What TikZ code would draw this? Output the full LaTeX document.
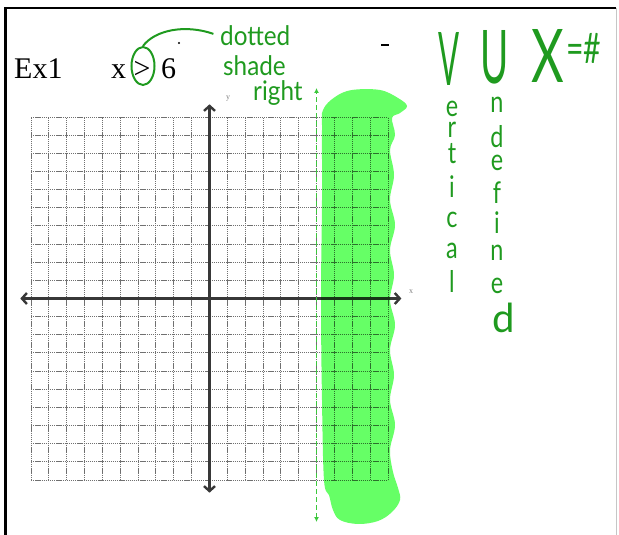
\documentclass[tikz,border=0pt]{standalone}
\usepackage{fontspec}
\setmainfont{Liberation Serif}
\newfontfamily\handfont{Lato}
\usepackage{graphicx}
\usetikzlibrary{arrows.meta,shapes.geometric}
\definecolor{penGreen}{HTML}{1F9A1F}
\definecolor{penLight}{HTML}{3CC83C}
\definecolor{hiGreen}{HTML}{66FF66}
\definecolor{axisGray}{HTML}{383838}
\definecolor{gridGray}{HTML}{707070}

\begin{document}
\begin{tikzpicture}[
  x=1pt,y=-1pt,
  print/.style={inner sep=0pt,font=\fontsize{30}{30}\selectfont},
  hand/.style={inner sep=0pt,text=penGreen,font=\handfont\fontsize{26}{26}\selectfont},
  big/.style={hand,font=\handfont\fontsize{74}{74}\selectfont},
  ring/.style={ellipse,draw=penGreen,line width=2pt,minimum width=23pt,
    minimum height=38pt,inner sep=0pt},
  pen/.style={draw=penGreen,line width=2pt},
  gridline/.style={draw=gridGray,line width=1pt,dash pattern=on 1.3pt off 0.8pt},
  axis/.style={draw=axisGray,line width=2.4pt,<->,>={Straight Barb[length=5pt,width=11pt]}},
  guide/.style={draw=penLight,line width=1.6pt,dash pattern=on 5pt off 3pt,
    <->,>={Latex[length=5pt,width=5pt]}},
  tag/.style={inner sep=0pt,text=gray,font=\fontsize{8}{8}\selectfont}
]
\useasboundingbox (0,0) rectangle (619,535);
\draw[line width=2.6pt] (5.3,535) -- (5.3,8) -- (616,8);
\draw[gray!45,line width=1pt] (616.5,8) -- (616.5,535);

\node[print,anchor=base west] (ex) at (14,78) {Ex1};
\node[print,anchor=base west] (xvar) at (111,78) {x};
\node[print,anchor=base] (gtsign) at (142,78) {>};
\node[print,anchor=base west] (six) at (161,78) {6};
\fill (179,43) circle (1.2pt);
\fill (381,44) rectangle (389,46.5);

\begin{scope}[shift={(209.5,298.5)},x=17.85pt,y=18.15pt]
  \foreach \k in {-10,...,10} {
    \draw[gridline] (\k,-10) -- (\k,10);
    \draw[gridline] (-10,\k) -- (10,\k);
  }
  \coordinate (xmin) at (-10.6,0);
  \coordinate (xmax) at (10.75,0);
  \coordinate (ymin) at (0,-10.7);
  \coordinate (ymax) at (0,10.7);
\end{scope}
\draw[axis] (xmin) -- (xmax);
\draw[axis] (ymin) -- (ymax);
\node[tag] (ylab) at (228,99) {y};
\node[tag] (xlab) at (411,292) {x};

\begin{scope}[blend mode=multiply]
  \fill[hiGreen] plot[smooth cycle,tension=0.6] coordinates {
    (323,110) (335,97) (352,90) (380,90) (398,98) (407,106) (400,113)
    (392,118) (395,135) (390,150) (394,175) (390,200) (395,225) (390,250)
    (394,275) (390,300) (395,325) (390,350) (394,375) (390,400) (395,425)
    (390,450) (393,472) (398,488) (400,500) (392,512) (378,521) (358,524)
    (340,520) (333,510) (329,495) (324,480) (322,400) (321,300) (322,200)
    (322,130)};
\end{scope}
\coordinate (gtop) at (316.5,88);
\coordinate (gbot) at (316.5,522);
\draw[guide] (gbot) -- (gtop);

\node[ring] (loop) at (143,66) {};
\node[hand,anchor=base west,font=\handfont\fontsize{27}{27}\selectfont] (dotted) at (220,46) {\scalebox{0.9}[1]{dotted}};
\node[hand,anchor=base west,font=\handfont\fontsize{27}{27}\selectfont] (shade) at (223,76) {\scalebox{0.9}[1]{shade}};
\node[hand,anchor=base west,font=\handfont\fontsize{27}{27}\selectfont] (right) at (253,100) {\scalebox{0.9}[1]{right}};
\draw[pen,shorten >=7pt] (loop.north) .. controls (155,30) and (185,24) .. (dotted.west);

\node[big,anchor=base west] (bigV) at (438,85) {\scalebox{0.42}[1]{V}};
\node[big,anchor=base west] (bigU) at (480,84) {\scalebox{0.52}[1]{U}};
\node[big,anchor=base west] (bigX) at (531,82) {\scalebox{0.68}[1]{X}};
\node[hand,anchor=base west,font=\handfont\fontsize{42}{42}\selectfont] (eqnum) at (566,64) {\scalebox{0.72}[1]{=\#}};

\foreach \ch/\yb [count=\i] in {e/117,r/137,t/163,i/197,c/227,a/258,l/292}
  \node[hand,anchor=base] (vert\i) at (452,\yb) {\scalebox{0.9}[1.15]{\ch}};
\foreach \ch/\yb [count=\i] in {n/113,d/147,e/170,f/203,i/233,n/260,e/293}
  \node[hand,anchor=base] (undef\i) at (497,\yb) {\scalebox{0.9}[1.15]{\ch}};
\node[hand,anchor=base,font=\handfont\fontsize{40}{40}\selectfont] (undef8) at (504,332) {d};
\end{tikzpicture}
\end{document}
